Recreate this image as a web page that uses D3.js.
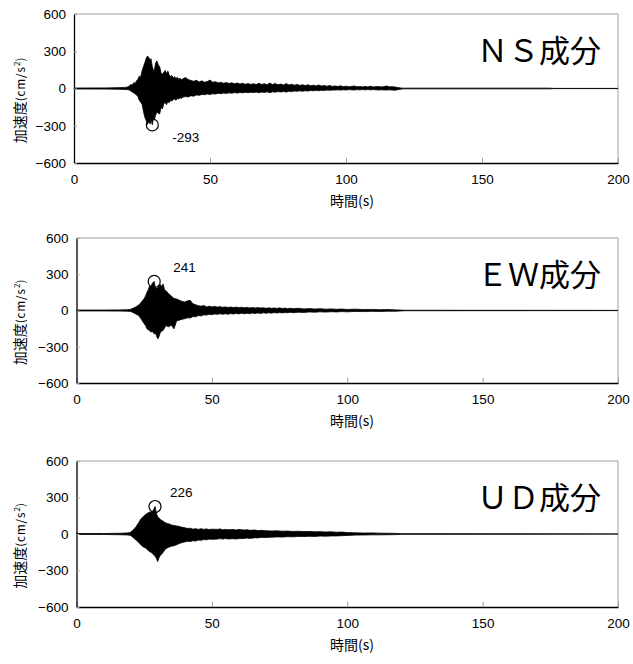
<!DOCTYPE html>
<html>
<head>
<meta charset="utf-8">
<script src="https://cdn.jsdelivr.net/npm/d3@7"></script>
<style>
  body { margin: 0; background: #fff; }
</style>
</head>
<body>
<div id="chart"></div>
<script>
// tick values shared by the three panels
var xTicks = [0, 50, 100, 150, 200];
var yTicks = [-600, -300, 0, 300, 600];

// component names
var components = ["ＮＳ成分", "ＥＷ成分", "ＵＤ成分"];

// peak annotations (time s, value cm/s2)
var peakTimes = [28.8, 28.7, 29.0];
var peakValues = [-293, 241, 226];

// envelope of each trace: [time, upper, lower]
var nsTrace = [
  [0, 4, -4], [12, 5, -5], [16, 7, -6], [19, 9, -8], [20, 14, -10], [20.5, 25, -15], [21, 32, -22],
  [21.5, 28, -30], [22, 48, -35], [22.5, 40, -45], [23, 62, -52], [23.5, 75, -65], [24, 100, -95],
  [24.5, 90, -110], [25, 140, -125], [25.5, 175, -180], [26, 205, -230], [26.5, 240, -255], [27, 262, -290],
  [27.5, 250, -265], [28, 225, -285], [28.3, 240, -250], [28.8, 175, -293], [29.2, 150, -240], [29.5, 140, -255],
  [30, 205, -215], [30.5, 222, -190], [31, 190, -200], [31.5, 175, -205], [32, 125, -150], [32.5, 115, -165],
  [33, 130, -125], [33.5, 145, -110], [34, 120, -130], [34.5, 140, -105], [35, 110, -115], [35.5, 95, -95],
  [36, 105, -100], [36.5, 85, -90], [37, 95, -85], [37.5, 80, -95], [38, 90, -80], [38.5, 75, -85],
  [39, 82, -75], [39.5, 70, -80], [40, 78, -70], [41, 88, -65], [42, 72, -68], [43, 65, -58], [44, 58, -62],
  [45, 66, -52], [46, 52, -55], [47, 62, -48], [48, 50, -50], [49, 56, -44], [50, 68, -48], [51, 50, -42],
  [52, 55, -45], [53, 45, -38], [54, 50, -42], [55, 42, -36], [56, 48, -40], [57, 40, -35], [58, 46, -38],
  [59, 38, -33], [60, 44, -37], [61, 36, -32], [62, 42, -35], [63, 34, -31], [64, 40, -34], [65, 33, -30],
  [66, 38, -33], [67, 32, -29], [68, 42, -34], [69, 33, -28], [70, 38, -32], [71, 30, -27], [72, 44, -34],
  [73, 32, -27], [74, 40, -30], [75, 30, -25], [76, 36, -28], [77, 28, -24], [78, 40, -29], [79, 28, -22],
  [80, 34, -25], [81, 26, -20], [82, 33, -23], [83, 25, -19], [84, 30, -22], [85, 24, -18], [86, 30, -21],
  [87, 22, -16], [88, 27, -19], [89, 21, -15], [90, 28, -18], [91, 20, -14], [92, 24, -16], [93, 18, -12],
  [94, 24, -15], [95, 17, -12], [96, 21, -13], [97, 16, -11], [98, 22, -13], [99, 15, -10], [100, 19, -12],
  [101, 14, -9], [102, 17, -11], [103, 20, -12], [104, 14, -9], [105, 16, -11], [106, 13, -9], [107, 17, -11],
  [108, 13, -9], [109, 18, -11], [110, 12, -9], [111, 15, -11], [112, 16, -12], [113, 12, -10], [114, 16, -12],
  [115, 20, -12], [116, 13, -11], [117, 15, -13], [118, 12, -14], [119, 8, -10], [120, 5, -6], [121, 3, -3],
  [175, 3, -3], [176, 1, -1], [200, 1, -1]
];

var ewTrace = [
  [0, 4, -4], [10, 4, -4], [16, 5, -5], [19, 7, -6], [20, 10, -8], [21, 20, -18], [22, 32, -30],
  [23, 45, -42], [24, 70, -75], [25, 100, -110], [25.5, 120, -125], [26, 150, -150], [26.5, 170, -160],
  [27, 205, -165], [27.5, 195, -180], [28, 225, -170], [28.7, 241, -195], [29, 200, -185], [29.5, 180, -205],
  [30, 190, -235], [30.5, 205, -215], [31, 215, -180], [31.5, 195, -170], [32, 220, -165], [32.5, 170, -145],
  [33, 165, -125], [34, 140, -135], [35, 120, -120], [36, 100, -152], [37, 95, -85], [38, 85, -80],
  [39, 75, -72], [40, 70, -68], [41, 80, -60], [42, 84, -62], [43, 55, -50], [44, 48, -52], [45, 40, -42],
  [46, 36, -45], [47, 42, -36], [48, 30, -38], [49, 36, -32], [50, 30, -35], [51, 34, -28], [52, 28, -32],
  [53, 32, -27], [54, 26, -31], [55, 30, -27], [56, 25, -30], [57, 29, -25], [58, 24, -29], [59, 28, -24],
  [60, 23, -28], [61, 27, -23], [62, 22, -27], [63, 26, -22], [64, 21, -26], [65, 25, -21], [66, 20, -25],
  [67, 24, -20], [68, 20, -24], [69, 23, -19], [70, 18, -23], [71, 22, -18], [72, 18, -22], [73, 21, -17],
  [74, 17, -21], [75, 22, -17], [76, 16, -20], [77, 20, -16], [78, 15, -19], [79, 19, -15], [80, 15, -18],
  [82, 18, -14], [84, 13, -16], [86, 16, -12], [88, 12, -14], [90, 15, -11], [92, 11, -13], [94, 13, -10],
  [96, 10, -12], [98, 12, -9], [100, 9, -11], [103, 11, -8], [106, 8, -9], [109, 9, -7], [112, 7, -8],
  [115, 8, -6], [118, 5, -6], [119.5, 4, -4], [121, 2, -2], [200, 1, -1]
];

var udTrace = [
  [0, 4, -4], [10, 4, -4], [16, 6, -6], [19, 9, -8], [20, 15, -12], [21, 35, -30], [22, 60, -50],
  [23, 95, -70], [24, 130, -95], [25, 150, -110], [25.5, 160, -115], [26, 168, -125], [26.5, 175, -135],
  [27, 180, -145], [27.5, 178, -150], [28, 185, -160], [28.5, 200, -170], [29, 226, -182], [29.5, 170, -200],
  [30, 140, -226], [30.5, 130, -195], [31, 120, -175], [31.5, 112, -165], [32, 105, -150], [33, 90, -120],
  [34, 85, -110], [35, 75, -100], [36, 70, -97], [37, 66, -88], [38, 62, -78], [39, 55, -70], [40, 52, -65],
  [41, 45, -60], [42, 48, -62], [43, 40, -55], [44, 44, -58], [45, 38, -50], [46, 44, -52], [47, 38, -46],
  [48, 42, -48], [49, 36, -42], [50, 40, -44], [52, 38, -42], [53, 42, -38], [54, 34, -42], [55, 38, -37],
  [56, 35, -41], [58, 37, -39], [59, 32, -41], [60, 37, -38], [62, 33, -37], [63, 35, -33], [64, 30, -36],
  [66, 33, -31], [67, 28, -32], [68, 30, -28], [70, 27, -28], [72, 25, -26], [74, 26, -24], [76, 23, -25],
  [78, 24, -22], [80, 21, -23], [82, 22, -20], [84, 20, -21], [86, 21, -19], [88, 18, -20], [90, 19, -17],
  [92, 17, -18], [94, 18, -16], [96, 15, -16], [98, 16, -14], [100, 12, -12], [103, 10, -9], [106, 8, -8],
  [109, 9, -7], [112, 7, -7], [115, 6, -6], [118, 5, -5], [120, 3, -3], [200, 1, -1]
];

var traces = [nsTrace, ewTrace, udTrace];

// where each panel sits in the page
var panels = [
  { top: 14, bottom: 163, left: 74, right: 618, labelDx: 20, labelDy: 12 },
  { top: 238, bottom: 383, left: 76.5, right: 618, labelDx: 19, labelDy: -14 },
  { top: 461, bottom: 607, left: 76.5, right: 618, labelDx: 15, labelDy: -15 }
];

var svg = d3.select("#chart")
  .append("svg")
    .attr("width", 633)
    .attr("height", 664)
    .style("font-family", "'Liberation Sans', Arial, sans-serif");

panels.forEach(function(p, i) {
  var x = d3.scaleLinear().domain([0, 200]).range([p.left, p.right]);
  var y = d3.scaleLinear().domain([-600, 600]).range([p.bottom, p.top]);
  var g = svg.append("g");

  // grey frame on top and right
  g.append("path")
    .attr("d", "M" + x(0) + "," + y(600) + "H" + x(200) + "V" + y(-600))
    .attr("fill", "none")
    .attr("stroke", "#a0a0a0")
    .attr("stroke-width", 1);

  // the trace
  var area = d3.area()
    .x(function(d) { return x(d[0]); })
    .y0(function(d) { return y(d[2]); })
    .y1(function(d) { return y(d[1]); });
  g.append("path")
    .datum(traces[i])
    .attr("d", area)
    .attr("fill", "#000")
    .attr("stroke", "#000")
    .attr("stroke-width", 0.8)
    .attr("stroke-linejoin", "miter");

  // X axis, ticks inside
  var xAxis = g.append("g")
    .attr("transform", "translate(0," + p.bottom + ")")
    .call(d3.axisBottom(x).tickValues(xTicks).tickSizeInner(-5).tickSizeOuter(0).tickPadding(11));
  xAxis.select(".domain").attr("stroke", "#000").attr("stroke-width", 1.3);
  xAxis.selectAll(".tick line").attr("stroke", "#999");
  xAxis.selectAll("text")
    .attr("fill", "#000")
    .attr("font-size", "13.5px")
    .attr("font-family", "'Liberation Sans', Arial, sans-serif");

  // Y axis, ticks inside
  var yAxis = g.append("g")
    .attr("transform", "translate(" + p.left + ",0)")
    .call(d3.axisLeft(y).tickValues(yTicks).tickSizeInner(-3).tickSizeOuter(0).tickPadding(8));
  yAxis.select(".domain").attr("stroke", "#000").attr("stroke-width", 1.3);
  yAxis.selectAll(".tick line").attr("stroke", "#999");
  yAxis.selectAll("text")
    .attr("fill", "#000")
    .attr("font-size", "13.5px")
    .attr("font-family", "'Liberation Sans', Arial, sans-serif");

  // axis titles
  g.append("text")
    .attr("x", 352)
    .attr("y", p.bottom + 43)
    .attr("text-anchor", "middle")
    .style("font-size", "14px")
    .style("font-family", "'Noto Sans CJK JP', sans-serif")
    .text("時間(s)");

  var yt = g.append("text")
    .attr("transform", "translate(25," + ((p.top + p.bottom) / 2 + 12) + ") rotate(-90)")
    .attr("text-anchor", "middle")
    .style("font-family", "'Noto Sans CJK JP', sans-serif");
  yt.append("tspan").style("font-size", "14px").text("加速度");
  yt.append("tspan").style("font-size", "11.5px").attr("letter-spacing", "1px").text("(cm/s");
  yt.append("tspan").style("font-size", "8px").attr("dy", -5).text("2");
  yt.append("tspan").style("font-size", "11.5px").attr("dy", 5).text(")");

  // component name
  g.append("text")
    .attr("x", 477)
    .attr("y", p.top + 48)
    .style("font-size", "31px")
    .style("font-family", "'Noto Sans CJK JP', sans-serif")
    .text(components[i]);

  // peak marker
  g.append("circle")
    .attr("cx", x(peakTimes[i]))
    .attr("cy", y(peakValues[i]))
    .attr("r", 6)
    .attr("fill", "none")
    .attr("stroke", "#000")
    .attr("stroke-width", 1.2);

  g.append("text")
    .attr("x", x(peakTimes[i]) + p.labelDx)
    .attr("y", y(peakValues[i]) + p.labelDy + 5)
    .style("font-size", "13.5px")
    .text(peakValues[i]);
});
</script>
</body>
</html>
